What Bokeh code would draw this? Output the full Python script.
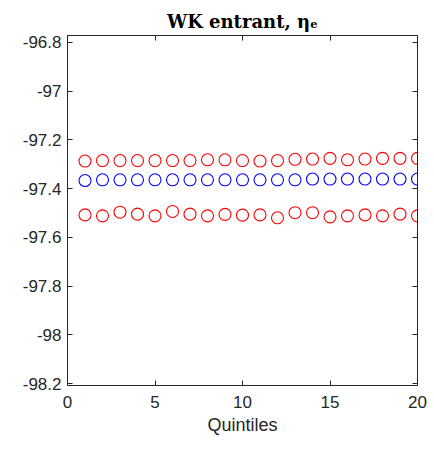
from bokeh.plotting import figure
from bokeh.models import Range1d, FixedTicker, LinearAxis, CustomJSTickFormatter
from bokeh.embed import file_html
from bokeh.resources import INLINE

quintiles = list(range(1, 21))
upper_red = [-97.287, -97.285, -97.285, -97.285, -97.285, -97.285, -97.285, -97.282, -97.282, -97.285,
             -97.287, -97.285, -97.280, -97.279, -97.276, -97.282, -97.279, -97.276, -97.276, -97.276]
blue_mid = [-97.367, -97.364, -97.364, -97.364, -97.364, -97.364, -97.364, -97.364, -97.364, -97.364,
            -97.364, -97.364, -97.364, -97.361, -97.361, -97.361, -97.361, -97.361, -97.361, -97.361]
lower_red = [-97.508, -97.512, -97.497, -97.505, -97.512, -97.494, -97.505, -97.512, -97.506, -97.509,
             -97.508, -97.520, -97.499, -97.499, -97.516, -97.512, -97.508, -97.512, -97.505, -97.512]

y_ticks = [-98.2, -98.0, -97.8, -97.6, -97.4, -97.2, -97.0, -96.8]
y_tick_labels = ["-98.2", "-98", "-97.8", "-97.6", "-97.4", "-97.2", "-97", "-96.8"]
x_ticks = [0, 5, 10, 15, 20]
title_text = "WK entrant, \u03b7\u2091"

AX = "#262626"

p = figure(width=434, height=450, output_backend="svg", toolbar_location=None,
           x_range=Range1d(0, 20), y_range=Range1d(-98.208, -96.772),
           min_border_left=67, min_border_right=17, min_border_top=35, min_border_bottom=65)
p.outline_line_color = None
p.xgrid.visible = False
p.ygrid.visible = False
p.background_fill_color = "white"
p.border_fill_color = "white"

p.title.text = title_text
p.title.align = "center"
p.title.text_font = "DejaVu Serif"
p.title.text_font_style = "bold"
p.title.text_font_size = "18px"
p.title.text_color = "black"
p.title.standoff = 8

def style(ax, labels=True):
    ax.axis_line_color = AX
    ax.axis_line_width = 1
    ax.major_tick_in = 5
    ax.major_tick_out = 0
    ax.minor_tick_in = 0
    ax.minor_tick_out = 0
    ax.major_tick_line_color = AX
    ax.major_label_text_color = AX
    ax.major_label_text_font = "Liberation Sans"
    ax.major_label_text_font_size = "17px"
    if not labels:
        ax.formatter = CustomJSTickFormatter(code="return ''")
        ax.major_label_standoff = 0

xa = p.xaxis[0]
ya = p.yaxis[0]
xa.ticker = FixedTicker(ticks=x_ticks)
ya.ticker = FixedTicker(ticks=y_ticks)
ya.major_label_overrides = {t: l for t, l in zip(y_ticks, y_tick_labels)}
style(xa)
style(ya)
xa.major_label_standoff = 10
ya.major_label_standoff = 6
xa.axis_label = "Quintiles"
xa.axis_label_text_font = "Liberation Sans"
xa.axis_label_text_font_style = "normal"
xa.axis_label_text_font_size = "18px"
xa.axis_label_text_color = AX
xa.axis_label_standoff = 4

top = LinearAxis(ticker=FixedTicker(ticks=x_ticks))
right = LinearAxis(ticker=FixedTicker(ticks=y_ticks))
style(top, labels=False)
style(right, labels=False)
p.add_layout(top, "above")
p.add_layout(right, "right")

p.scatter(quintiles, upper_red, marker="circle", size=12, fill_color=None, line_color="#ff0000", line_width=1.1)
p.scatter(quintiles, blue_mid, marker="circle", size=12, fill_color=None, line_color="#0000ff", line_width=1.1)
p.scatter(quintiles, lower_red, marker="circle", size=12, fill_color=None, line_color="#ff0000", line_width=1.1)

open("out.html", "w").write(file_html(p, INLINE))
